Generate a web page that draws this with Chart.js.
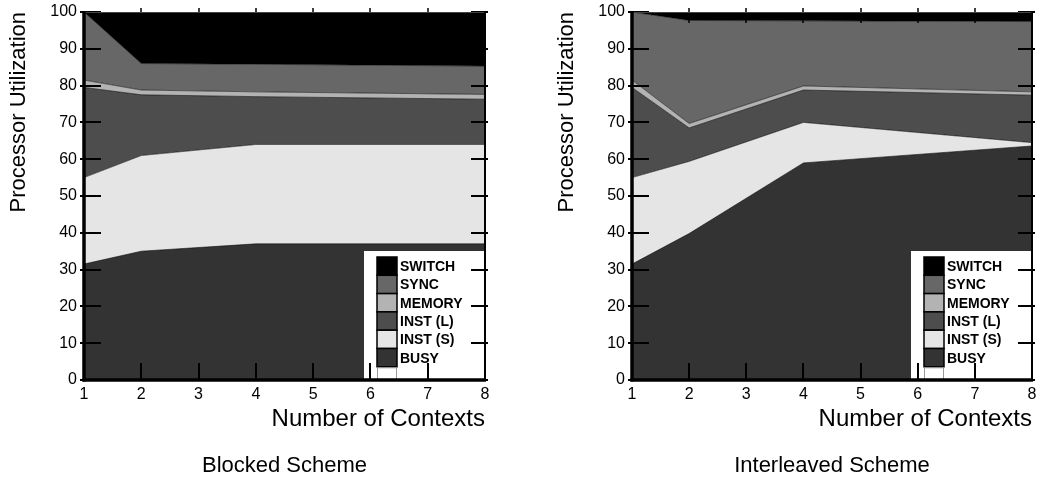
<!DOCTYPE html>
<html>
<head>
<meta charset="utf-8">
<script src="https://cdn.jsdelivr.net/npm/chart.js@4.4.1/dist/chart.umd.min.js"></script>
<style>
  html, body { margin: 0; padding: 0; background: #fff; }
  #wrap { position: relative; width: 1039px; height: 483px; overflow: hidden; }
  canvas { position: absolute; top: 0; }
</style>
</head>
<body>
<div id="wrap">
  <canvas id="c1" width="519" height="483" style="left:0px"></canvas>
  <canvas id="c2" width="491" height="483" style="left:548px"></canvas>
</div>
<script>
// ---- Data ----
const contexts = [1, 2, 4, 8];
const seriesNames = ['BUSY', 'INST (S)', 'INST (L)', 'MEMORY', 'SYNC', 'SWITCH'];
const seriesColors = ['#333333', '#e5e5e5', '#4d4d4d', '#b3b3b3', '#676767', '#000000'];

// Blocked scheme (segment sizes, percent)
const blockedBusy   = [31.5, 35.0, 37.0, 37.0];
const blockedInstS  = [23.5, 26.0, 27.0, 27.0];
const blockedInstL  = [24.5, 16.5, 13.0, 12.3];
const blockedMemory = [2.0, 1.3, 1.3, 1.3];
const blockedSync   = [18.5, 7.2, 7.5, 7.7];
const blockedSwitch = [0.0, 14.0, 14.2, 14.7];

// Interleaved scheme (segment sizes, percent)
const interBusy   = [31.5, 39.8, 59.0, 63.6];
const interInstS  = [23.5, 19.6, 11.0, 0.9];
const interInstL  = [24.5, 9.1, 8.8, 12.9];
const interMemory = [2.0, 1.2, 1.1, 0.9];
const interSync   = [18.5, 28.0, 17.7, 19.1];
const interSwitch = [0.0, 2.3, 2.4, 2.6];

const yTickStep = 10;
const xAxisTitle = 'Number of Contexts';
const yAxisTitle = 'Processor Utilization';
const captions = ['Blocked Scheme', 'Interleaved Scheme'];

const FONT = '"Liberation Sans", Arial, Helvetica, sans-serif';
Chart.defaults.font.family = FONT;
Chart.defaults.color = '#000';

function buildDatasets(segments) {
  const cum = contexts.map(() => 0);
  return segments.map((seg, i) => {
    const data = contexts.map((x, j) => { cum[j] += seg[j]; return { x: x, y: Math.min(100, +cum[j].toFixed(2)) }; });
    return {
      label: seriesNames[i],
      data: data,
      backgroundColor: seriesColors[i],
      borderColor: 'rgba(0,0,0,0.55)',
      borderWidth: 1,
      pointRadius: 0,
      tension: 0,
      fill: i === 0 ? 'origin' : '-1'
    };
  });
}

const framePlugin = {
  id: 'frame',
  afterDatasetsDraw(chart) {
    const ctx = chart.ctx, a = chart.chartArea;
    const boxL = a.right - 121, boxT = a.bottom - 129;
    ctx.save();
    ctx.fillStyle = '#fff';
    ctx.fillRect(boxL, boxT, a.right - boxL, a.bottom - boxT);
    const sx = boxL + 13, sw = 20, rowH = 18.3;
    const sy = boxT + 6;
    const order = seriesNames.map((n, i) => i).reverse();
    ctx.font = 'bold 14px ' + FONT;
    ctx.textBaseline = 'middle';
    ctx.textAlign = 'left';
    order.forEach((idx, r) => {
      const y = sy + r * rowH;
      ctx.fillStyle = seriesColors[idx];
      ctx.fillRect(sx, y, sw, rowH);
      ctx.strokeStyle = '#000';
      ctx.lineWidth = 1.5;
      ctx.strokeRect(sx, y, sw, rowH);
      ctx.fillStyle = '#000';
      ctx.fillText(seriesNames[idx], sx + sw + 3, y + rowH / 2 + 1);
    });
    const emptyTop = sy + order.length * rowH;
    ctx.strokeStyle = '#999';
    ctx.lineWidth = 1;
    ctx.strokeRect(sx + 0.5, emptyTop + 1, sw - 1, a.bottom - emptyTop - 1);
    ctx.restore();
  },
  afterDraw(chart, args, opts) {
    const ctx = chart.ctx, a = chart.chartArea;
    const xs = chart.scales.x, ys = chart.scales.y;
    ctx.save();
    ctx.strokeStyle = '#000';
    ys.ticks.forEach(t => {
      const py = Math.round(ys.getPixelForValue(t.value));
      ctx.lineWidth = 2;
      ctx.beginPath(); ctx.moveTo(a.left - 4, py); ctx.lineTo(a.left + 17, py); ctx.stroke();
      ctx.beginPath(); ctx.moveTo(a.right - 14, py); ctx.lineTo(a.right + 3, py); ctx.stroke();
    });
    xs.ticks.forEach(t => {
      if (t.value <= xs.min || t.value >= xs.max) return;
      const px = Math.round(xs.getPixelForValue(t.value));
      ctx.lineWidth = 2;
      ctx.beginPath(); ctx.moveTo(px, a.bottom - 17); ctx.lineTo(px, a.bottom); ctx.stroke();
      ctx.lineWidth = 1.5;
      ctx.beginPath(); ctx.moveTo(px, a.top - 4); ctx.lineTo(px, a.top + 11); ctx.stroke();
    });
    ctx.strokeStyle = '#444';
    ctx.lineWidth = 1;
    ctx.beginPath(); ctx.moveTo(a.left, a.top + 0.5); ctx.lineTo(a.right, a.top + 0.5); ctx.stroke();
    ctx.strokeStyle = '#000';
    ctx.lineWidth = 2;
    ctx.beginPath(); ctx.moveTo(a.right, a.top); ctx.lineTo(a.right, a.bottom); ctx.stroke();
    ctx.lineWidth = 3.5;
    ctx.beginPath(); ctx.moveTo(a.left, a.top); ctx.lineTo(a.left, a.bottom + 1.5); ctx.stroke();
    ctx.beginPath(); ctx.moveTo(a.left - 1.5, a.bottom); ctx.lineTo(a.right + 1, a.bottom); ctx.stroke();
    ctx.fillStyle = '#000';
    ctx.font = '22px ' + FONT;
    ctx.textAlign = 'center';
    ctx.textBaseline = 'middle';
    ctx.fillText(opts.caption, (a.left + a.right) / 2, 466);
    ctx.restore();
  }
};

function makeChart(id, segments, caption, padRight) {
  return new Chart(document.getElementById(id), {
    type: 'line',
    data: { datasets: buildDatasets(segments) },
    options: {
      responsive: false,
      animation: false,
      layout: { padding: { left: 0, right: padRight, top: 12, bottom: 29 } },
      plugins: {
        legend: { display: false },
        tooltip: { enabled: false },
        frame: { caption: caption }
      },
      scales: {
        x: {
          type: 'linear', min: 1, max: 8,
          ticks: { stepSize: 1, padding: 5, font: { size: 16 }, color: '#000' },
          grid: { display: false, drawTicks: false, tickLength: 0 },
          border: { display: false },
          title: { display: true, text: xAxisTitle, align: 'end', font: { size: 24 }, color: '#000', padding: { top: 0, bottom: 20 } },
          afterFit(s) { s.height = 74; s.paddingLeft = 0; s.paddingRight = 0; }
        },
        y: {
          type: 'linear', min: 0, max: 100,
          ticks: { stepSize: yTickStep, padding: 7, font: { size: 16 }, color: '#000' },
          grid: { display: false, drawTicks: false, tickLength: 0 },
          border: { display: false },
          title: { display: true, text: yAxisTitle, align: 'end', font: { size: 22 }, color: '#000', padding: { top: 6, bottom: 0 } },
          afterFit(s) { s.width = 84; s.paddingTop = 0; s.paddingBottom = 0; }
        }
      }
    },
    plugins: [framePlugin]
  });
}

makeChart('c1', [blockedBusy, blockedInstS, blockedInstL, blockedMemory, blockedSync, blockedSwitch], captions[0], 34);
makeChart('c2', [interBusy, interInstS, interInstL, interMemory, interSync, interSwitch], captions[1], 7);
</script>
</body>
</html>
